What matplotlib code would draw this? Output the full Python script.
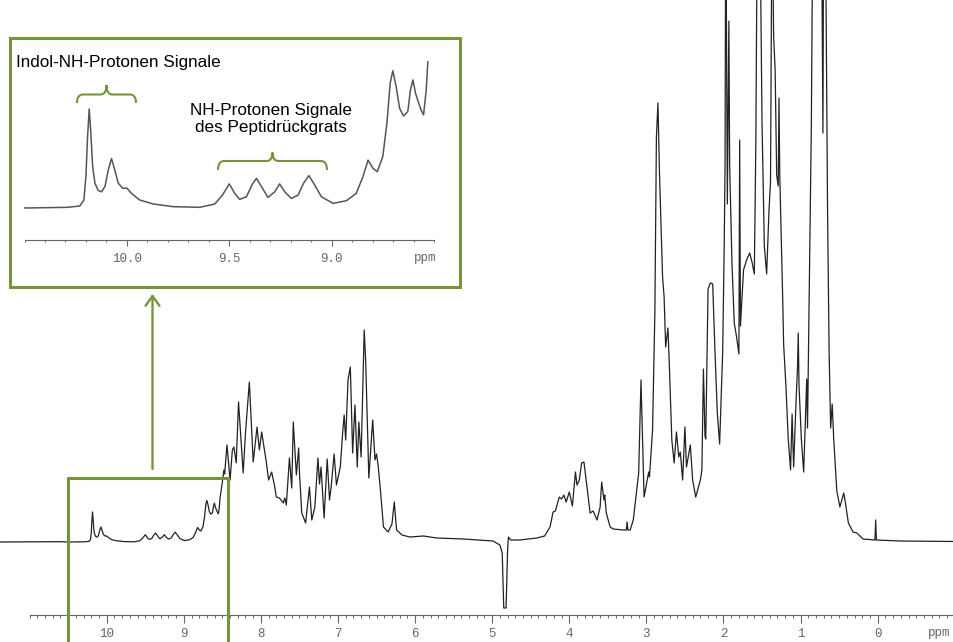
import numpy as np
import matplotlib.pyplot as plt
from matplotlib.path import Path
from matplotlib.patches import PathPatch, Rectangle, FancyArrowPatch
from matplotlib.lines import Line2D
from matplotlib.transforms import Affine2D
from matplotlib.ticker import FixedLocator

# 1H NMR trace: chemical shift (ppm) and intensity (a.u.)
shift = [
    11.40, 10.60, 10.49, 10.29, 10.23, 10.21, 10.20, 10.192, 10.184, 10.176,
    10.167, 10.156, 10.14, 10.124, 10.107, 10.091, 10.075, 10.059, 10.042, 10.021,
    10.00, 9.977, 9.937, 9.87, 9.774, 9.644, 9.571, 9.533, 9.50, 9.473,
    9.449, 9.416, 9.389, 9.367, 9.343, 9.311, 9.278, 9.254, 9.229, 9.197,
    9.164, 9.137, 9.111, 9.083, 9.05, 8.993, 8.928, 8.88, 8.847, 8.822,
    8.798, 8.777, 8.75, 8.73, 8.714, 8.701, 8.685, 8.668, 8.649, 8.628,
    8.615, 8.603, 8.59, 8.577, 8.563, 8.551, 8.538, 8.53,
    8.52, 8.50, 8.48, 8.47, 8.44, 8.40, 8.37, 8.35,
    8.32, 8.29, 8.23, 8.20, 8.15, 8.10, 8.05, 8.02, 7.99, 7.93,
    7.90, 7.86, 7.82, 7.80, 7.76, 7.71, 7.69, 7.67, 7.63, 7.60,
    7.58, 7.54, 7.51, 7.50, 7.47, 7.42, 7.37, 7.34, 7.30, 7.26,
    7.24, 7.22, 7.18, 7.14, 7.11, 7.09, 7.05, 7.02, 6.97, 6.94,
    6.92, 6.90, 6.87, 6.84, 6.81, 6.78, 6.75, 6.73, 6.70, 6.66,
    6.64, 6.60, 6.55, 6.52, 6.50, 6.48, 6.45, 6.41, 6.35, 6.30,
    6.27, 6.24, 6.17, 6.07, 5.89, 5.72, 5.37, 4.99, 4.90, 4.87,
    4.85, 4.82, 4.80, 4.79, 4.76, 4.64, 4.42, 4.32, 4.25, 4.21,
    4.18, 4.13, 4.10, 4.07, 4.04, 4.00, 3.96, 3.92, 3.90, 3.87,
    3.84, 3.81, 3.77, 3.73, 3.69, 3.64, 3.60, 3.58, 3.55, 3.54,
    3.52, 3.47, 3.43, 3.30, 3.26, 3.25, 3.24, 3.21, 3.17, 3.13,
    3.10, 3.07, 3.05, 3.03, 2.97, 2.96, 2.92, 2.89, 2.87, 2.85,
    2.83, 2.82, 2.79, 2.77, 2.75, 2.72, 2.70, 2.67, 2.64, 2.61,
    2.58, 2.56, 2.53, 2.50, 2.48, 2.43, 2.40, 2.36, 2.30, 2.28,
    2.26, 2.24, 2.23, 2.20, 2.17, 2.14, 2.11, 2.08, 2.05, 2.01,
    1.99, 1.98, 1.97, 1.95, 1.93, 1.92, 1.89, 1.86, 1.83, 1.80,
    1.79, 1.78, 1.74, 1.70, 1.66, 1.63, 1.60, 1.58, 1.56, 1.53,
    1.50, 1.47, 1.44, 1.41, 1.39, 1.37, 1.35, 1.33, 1.31, 1.29,
    1.28, 1.27, 1.23, 1.22, 1.19, 1.16, 1.13, 1.11, 1.09, 1.06,
    1.04, 1.03, 1.02, 0.99, 0.96, 0.92, 0.91, 0.88, 0.86, 0.84,
    0.73, 0.71, 0.70, 0.68, 0.65, 0.63, 0.61, 0.59, 0.57, 0.53,
    0.49, 0.44, 0.42, 0.38, 0.32, 0.27, 0.19, 0.035, 0.026, 0.017,
    -0.29, -1.00,
]
intensity = [
    0, 0.3, 0, 0.2, 0.6, 2.4, 9.5, 21.6, 30, 22.6,
    12.5, 7.5, 5.3, 4.9, 6.5, 11.5, 15, 11.5, 7.5, 6,
    6, 4.4, 2.4, 1.2, 0.4, 0.2, 1.2, 3.9, 7.3, 4.4,
    2.6, 3.4, 7, 9, 6.5, 3.2, 4.9, 7.3, 4.9, 2.9,
    3.9, 7.5, 9.8, 7, 3.4, 1.4, 2.2, 4.4, 9.5, 14.5,
    12, 11, 15.6, 25.7, 37.8, 41.6, 36.8, 30.2, 27.9, 29.2,
    35.8, 38.8, 34.7, 32.2, 29.7, 28.2, 35.8, 44.3,
    49, 60, 72, 68, 97, 62, 92, 95,
    79, 140, 69, 109, 160, 80, 115, 92, 110, 80,
    62, 70, 55, 45, 44, 39, 44, 37, 84, 54,
    120, 67, 94, 70, 29, 19, 55, 22, 35, 84,
    58, 75, 24, 83, 42, 54, 88, 57, 75, 109,
    127, 102, 162, 175, 89, 137, 75, 120, 85, 212,
    179, 64, 122, 82, 88, 77, 52, 15, 10, 18,
    40, 12, 7, 5, 6, 4, 3, 1, -3, -11,
    -66, -66, -8, 5, 2, 2, 4, 6, 15, 30,
    31, 45, 43, 47, 40, 50, 36, 70, 57, 62,
    79, 80, 55, 29, 31, 22, 35, 60, 42, 47,
    29, 15, 13, 12, 12, 20, 12, 12, 22, 49,
    69, 162, 105, 45, 70, 65, 112, 229, 405, 439,
    369, 342, 265, 245, 195, 214, 172, 102, 79, 110,
    85, 90, 62, 115, 75, 97, 62, 45, 62, 72,
    173, 106, 103, 253, 259, 258, 190, 129, 98, 191,
    300, 374, 650, 338, 521, 377, 279, 219, 205, 188,
    402, 216, 272, 282, 289, 280, 268, 402, 650, 650,
    419, 296, 268, 331, 360, 650, 507, 472, 367, 356,
    444, 367, 237, 198, 156, 103, 72, 128, 75, 138,
    174, 209, 156, 103, 70, 163, 114, 296, 419, 650,
    650, 409, 650, 650, 331, 191, 114, 138, 103, 51,
    35, 49, 40, 19, 10, 9, 3, 2, 22, 2,
    1, 0.5,
]

main_ticks = [10, 9, 8, 7, 6, 5, 4, 3, 2, 1, 0]
main_tick_labels = ["10", "9", "8", "7", "6", "5", "4", "3", "2", "1", "0"]
inset_ticks = [10.0, 9.5, 9.0]
inset_tick_labels = ["10.0", "9.5", "9.0"]

label_indol = "Indol-NH-Protonen Signale"
label_backbone = "NH-Protonen Signale\ndes Peptidrückgrats"

W, H = 954, 642
fig = plt.figure(figsize=(W / 100, H / 100), dpi=100)
# pixel coordinates measured from the top left corner of the picture
px = Affine2D().scale(1 / W, -1 / H).translate(0, 1) + fig.transFigure

green = "#77933C"
grey = "#666666"
mono = "Liberation Mono"

# main spectrum
ax = fig.add_axes([0, 0, 1, 1], zorder=0)
ax.plot(shift, intensity, color="#222222", lw=0.9)
ax.set_xlim(11.384, -0.99)
ax.set_ylim(-100, 542)
for s in ["top", "left", "right"]:
    ax.spines[s].set_visible(False)
ax.spines["bottom"].set_position(("data", -73))
ax.spines["bottom"].set_bounds(11.0, -0.99)
ax.spines["bottom"].set_color(grey)
ax.spines["bottom"].set_linewidth(0.8)
ax.set_yticks([])
ax.xaxis.set_major_locator(FixedLocator(main_ticks))
ax.set_xticklabels(main_tick_labels, fontfamily=mono)
ax.xaxis.set_minor_locator(FixedLocator(np.arange(-9, 111) / 10))
ax.tick_params(axis="x", which="major", direction="out", length=5.5, width=0.8,
               color=grey, labelcolor=grey, labelsize=9, pad=4)
ax.tick_params(axis="x", which="minor", direction="out", length=2.2, width=0.7, color=grey)
fig.text(928, 633, "ppm", transform=px, ha="left", va="center",
         fontfamily=mono, fontsize=9, color=grey)

# marked region and arrow to the zoom
fig.add_artist(Line2D([68, 68, 228, 228], [660, 478, 478, 660], transform=px,
                      color=green, lw=2.2, zorder=1))
fig.add_artist(FancyArrowPatch((152.5, 469), (152.5, 294), transform=px,
                               arrowstyle="->,head_length=0.7,head_width=0.5",
                               mutation_scale=10, color=green, lw=1.7,
                               shrinkA=0, shrinkB=0, zorder=1))

# zoom box
fig.add_artist(Rectangle((10.5, 37.5), 450, 249, transform=px, facecolor="white",
                         edgecolor=green, lw=2.2, zorder=1))

axi = fig.add_axes([24.5 / W, 1 - 240 / H, 409.5 / W, 200 / H], zorder=2)
axi.patch.set_alpha(0)
sel = np.array(shift) >= 8.53
axi.plot(np.array(shift)[sel], np.array(intensity)[sel], color="#555555", lw=1.1)
axi.set_xlim(10.5, 8.5)
axi.set_ylim(-9.7, 50.9)
for s in ["top", "left", "right"]:
    axi.spines[s].set_visible(False)
axi.spines["bottom"].set_color(grey)
axi.spines["bottom"].set_linewidth(0.8)
axi.set_yticks([])
axi.xaxis.set_major_locator(FixedLocator(inset_ticks))
axi.set_xticklabels(inset_tick_labels, fontfamily=mono)
axi.xaxis.set_minor_locator(FixedLocator(np.arange(85, 106) / 10))
axi.tick_params(axis="x", which="major", direction="out", length=4, width=0.8,
                color=grey, labelcolor=grey, labelsize=9, pad=5)
axi.tick_params(axis="x", which="minor", direction="out", length=1.6, width=0.7, color=grey)
fig.text(425, 258, "ppm", transform=px, ha="center", va="center",
         fontfamily=mono, fontsize=9, color=grey, zorder=3)


def brace(x0, x1, y_end, y_line, y_tip, r=6):
    xc = (x0 + x1) / 2
    verts = [(x0, y_end), (x0, y_line), (x0 + r, y_line),
             (xc - r, y_line), (xc, y_line), (xc, y_tip),
             (xc, y_line), (xc + r, y_line),
             (x1 - r, y_line), (x1, y_line), (x1, y_end)]
    codes = [Path.MOVETO, Path.CURVE3, Path.CURVE3,
             Path.LINETO, Path.CURVE3, Path.CURVE3,
             Path.CURVE3, Path.CURVE3,
             Path.LINETO, Path.CURVE3, Path.CURVE3]
    fig.add_artist(PathPatch(Path(verts, codes), transform=px, facecolor="none",
                             edgecolor=green, lw=1.5, zorder=3))


brace(77, 136, 103, 94.5, 85)
brace(218, 327, 170, 161, 152.5)

fig.text(16.5, 67.3, label_indol, transform=px, ha="left", va="baseline",
         fontfamily="Liberation Sans", fontsize=12.3, color="black", zorder=3)
fig.text(271, 131.7, label_backbone, transform=px, ha="center", va="baseline",
         fontfamily="Liberation Sans", fontsize=12.3, color="black",
         linespacing=1.15, zorder=3)

fig.savefig("out.png", dpi=100)
